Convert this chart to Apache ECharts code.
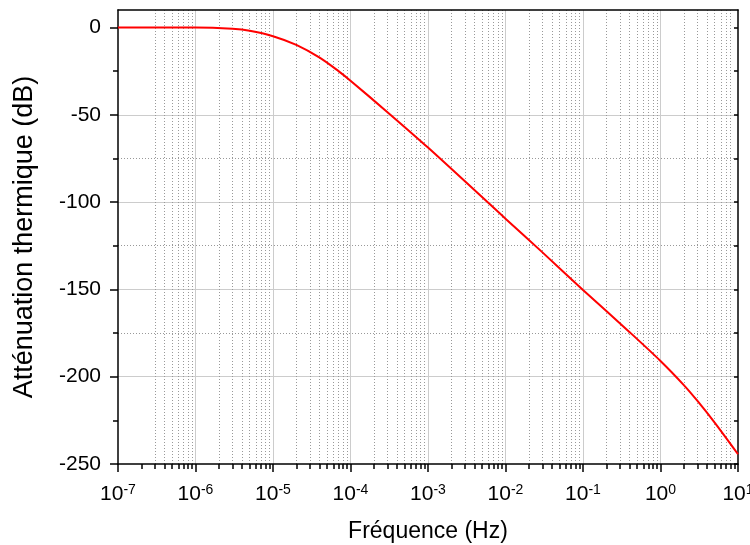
<!DOCTYPE html>
<html><head><meta charset="utf-8">
<script src="https://cdn.jsdelivr.net/npm/echarts@6/dist/echarts.min.js"></script>
<style>html,body{margin:0;padding:0;background:#fff}#c{width:750px;height:545px}</style>
</head><body><div id="c"></div>
<script>
// Data
const freqHz = [1e-7, 1e-6, 3e-6, 5e-6, 1e-5, 2e-5, 4e-5, 7e-5, 1e-4, 3e-4, 1e-3, 1e-2, 3e-2, 1e-1, 4e-1, 1, 2, 3, 5, 10];
const attenuationDb = [0, -0.05, -0.8, -1.9, -5, -10, -17.3, -25, -30.5, -48.5, -68.8, -109.5, -128.8, -150.3, -174.5, -191, -204.8, -213.9, -226.3, -244.4];

// Tick values
const xMajorTicks = [1e-7, 1e-6, 1e-5, 1e-4, 1e-3, 1e-2, 1e-1, 1, 10];
const xMinorMultipliers = [2, 3, 4, 5, 6, 7, 8, 9];
const yMajorTicks = [0, -50, -100, -150, -200, -250];
const yMinorTicks = [-25, -75, -125, -175, -225];

const xMinorTicks = [];
xMajorTicks.slice(0, -1).forEach(d => xMinorMultipliers.forEach(m => xMinorTicks.push(+(d * m).toPrecision(3))));
const yAllTicks = yMajorTicks.concat(yMinorTicks);

const FONT = 'Liberation Sans, Arial, sans-serif';
const xMin = 1e-7, xMax = 10, yMin = -250, yMax = 10;

const baseX = {type: 'log', logBase: 10, min: xMin, max: xMax, position: 'bottom',
  axisLine: {show: false, onZero: false}, axisTick: {show: false}, axisLabel: {show: false}, splitLine: {show: false}};
const baseY = {type: 'value', min: yMin, max: yMax, position: 'left',
  axisLine: {show: false, onZero: false}, axisTick: {show: false}, axisLabel: {show: false}, splitLine: {show: false}};

const chart = echarts.init(document.getElementById('c'), null, {renderer: 'canvas'});
chart.setOption({
  animation: false,
  backgroundColor: '#fff',
  grid: {left: 118, right: 12, top: 10, bottom: 81, containLabel: false, outerBoundsMode: 'none'},
  xAxis: [
    Object.assign({}, baseX, {
      z: 5,
      name: 'Fréquence (Hz)', nameLocation: 'middle', nameGap: 56,
      nameTextStyle: {fontSize: 23, fontFamily: FONT, color: '#000'},
      axisLine: {show: true, onZero: false, lineStyle: {color: '#000', width: 1.5}},
      axisTick: {show: true, customValues: xMajorTicks, length: 8, inside: false, lineStyle: {color: '#000', width: 1.5}},
      axisLabel: {show: true, customValues: xMajorTicks, margin: 19, color: '#000',
        formatter: v => '{b|10}{s|' + Math.round(Math.log10(v)) + '}',
        rich: {
          b: {fontSize: 21, fontFamily: FONT, color: '#000', verticalAlign: 'bottom', lineHeight: 22},
          s: {fontSize: 14, fontFamily: FONT, color: '#000', verticalAlign: 'top', lineHeight: 14, padding: [0, 0, 14, 0]}
        }}
    }),
    Object.assign({}, baseX, {
      z: 1,
      axisTick: {show: false, customValues: xMajorTicks},
      splitLine: {show: true, showMinLine: false, showMaxLine: false, lineStyle: {color: '#cccccc', width: 1, type: 'solid'}}
    }),
    Object.assign({}, baseX, {
      z: 2,
      axisTick: {show: true, customValues: xMinorTicks, length: 5, inside: false, lineStyle: {color: '#000', width: 1.5}},
      splitLine: {show: true, showMinLine: false, showMaxLine: false, lineStyle: {color: '#999999', width: 1, type: [1, 2]}}
    }),
    Object.assign({}, baseX, {
      z: 5, position: 'top',
      axisLine: {show: true, onZero: false, lineStyle: {color: '#000', width: 1.5}}
    })
  ],
  yAxis: [
    Object.assign({}, baseY, {
      z: 5,
      name: 'Atténuation thermique (dB)', nameLocation: 'middle', nameGap: 80,
      nameTextStyle: {fontSize: 27, fontFamily: FONT, color: '#000'},
      axisLine: {show: true, onZero: false, lineStyle: {color: '#000', width: 1.5}},
      axisTick: {show: true, customValues: yMajorTicks, length: 8, inside: false, lineStyle: {color: '#000', width: 1.5}},
      axisLabel: {show: true, customValues: yMajorTicks, margin: 17, fontSize: 21, fontFamily: FONT, color: '#000'}
    }),
    Object.assign({}, baseY, {
      z: 1,
      axisTick: {show: false, customValues: yMajorTicks},
      splitLine: {show: true, showMinLine: false, showMaxLine: false, lineStyle: {color: '#cccccc', width: 1, type: 'solid'}}
    }),
    Object.assign({}, baseY, {
      z: 2,
      axisTick: {show: true, customValues: yMinorTicks, length: 5, inside: false, lineStyle: {color: '#000', width: 1.5}},
      splitLine: {show: true, showMinLine: false, showMaxLine: false, lineStyle: {color: '#999999', width: 1, type: [1, 2]}}
    }),
    Object.assign({}, baseY, {
      z: 5, position: 'right',
      axisLine: {show: true, onZero: false, lineStyle: {color: '#000', width: 1.5}},
      axisTick: {show: true, customValues: yAllTicks, length: 4, inside: true, lineStyle: {color: '#000', width: 1.5}}
    })
  ],
  series: [{
    type: 'line',
    xAxisIndex: 0, yAxisIndex: 0,
    data: freqHz.map((f, i) => [f, attenuationDb[i]]),
    showSymbol: false, symbol: 'none',
    smooth: 0.3,
    lineStyle: {color: '#ff0000', width: 2},
    z: 10
  }]
});
</script></body></html>
